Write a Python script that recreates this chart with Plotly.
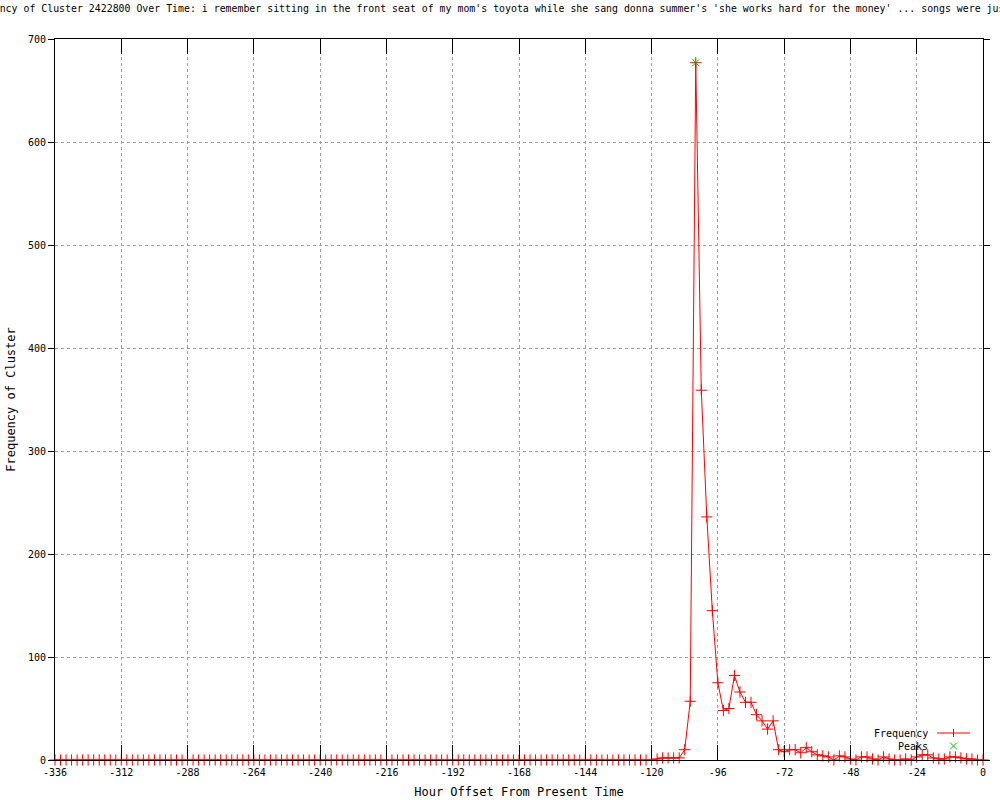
import plotly.graph_objects as go

# hour offsets, one sample every 2 hours
hours = list(range(-336, 1, 2))
freq = [
    0, 0, 0, 0, 0, 0, 0, 0, 0, 0, 0, 0, 0, 0, 0, 0, 0, 0, 0, 0,
    0, 0, 0, 0, 0, 0, 0, 0, 0, 0, 0, 0, 0, 0, 0, 0, 0, 0, 0, 0,
    0, 0, 0, 0, 0, 0, 0, 0, 0, 0, 0, 0, 0, 0, 0, 0, 0, 0, 0, 0,
    0, 0, 0, 0, 0, 0, 0, 0, 0, 0, 0, 0, 0, 0, 0, 0, 0, 0, 0, 0,
    0, 0, 0, 0, 0, 0, 0, 0, 0, 0, 0, 0, 0, 0, 0, 0, 0, 0, 0, 0,
    0, 0, 0, 0, 0, 0, 0, 0, 0,
    1, 2, 2, 2, 2,
    10, 57, 677, 359, 236, 145, 75, 48, 50, 82,
    66, 56, 56, 44, 38, 30, 38, 10, 8, 10,
    10, 7, 12, 8, 5, 4, 3, 0, 4, 3,
    1, 0, 3, 3, 1, 0, 3, 1, 0, 0,
    1, 0, 3, 5, 5, 2, 1, 1, 3, 3,
    2, 1, 1, 0, 0,
]
peak_hours = [-104]
peak_freq = [677]

x_ticks = list(range(-336, 1, 24))
x_labels = [str(v) for v in x_ticks]
y_ticks = list(range(0, 701, 100))

title = ("Frequency of Cluster 2422800 Over Time: i remember sitting in the front seat "
         "of my mom's toyota while she sang donna summer's 'she works hard for the money' "
         "... songs were just")

FONT = "DejaVu Sans Mono"
RED = "#ff0000"
GREEN = "#00c000"

fig = go.Figure()

fig.add_trace(go.Scatter(
    x=hours, y=freq, mode="lines+markers", name="Frequency",
    line=dict(color=RED, width=1),
    marker=dict(symbol="cross-thin", size=8, line=dict(color=RED, width=1)),
    cliponaxis=False, showlegend=False,
))
fig.add_trace(go.Scatter(
    x=peak_hours, y=peak_freq, mode="markers", name="Peaks",
    marker=dict(symbol="x-thin", size=7, line=dict(color=GREEN, width=1)),
    cliponaxis=False, showlegend=False,
))

fig.update_layout(
    width=1000, height=800,
    margin=dict(l=55, r=17, t=39, b=40, autoexpand=False),
    paper_bgcolor="white", plot_bgcolor="white",
    font=dict(family=FONT, size=10, color="black"),
    xaxis=dict(
        range=[-336, 0], tickvals=x_ticks, ticktext=x_labels, automargin=False,
        showgrid=True, gridcolor="#a0a0a0", griddash="3px,3px", gridwidth=1,
        zeroline=False, showline=True, linecolor="black", linewidth=1, mirror="ticks",
        ticks="inside", ticklen=15, tickcolor="black", ticklabelstandoff=3,
        title=dict(text="Hour Offset From Present Time", standoff=10),
    ),
    yaxis=dict(
        range=[0, 700], tickvals=y_ticks, automargin=False,
        showgrid=True, gridcolor="#a0a0a0", griddash="3px,3px", gridwidth=1,
        zeroline=False, showline=True, linecolor="black", linewidth=1, mirror="ticks",
        ticks="outside", ticklen=6, tickcolor="black",
        title=dict(text="Frequency of Cluster", standoff=9),
    ),
)

# title, wider than the page so it runs off both edges
fig.add_annotation(
    text=title, xref="paper", yref="paper", x=-93 / 928, y=1 + 31 / 721,
    xanchor="left", yanchor="middle", showarrow=False,
    font=dict(family=FONT, size=9.9, color="black"),
)

# gnuplot style key: text on the left, sample on the right
key_x = (930 - 55) / 928
for label, ypix in [("Frequency", 733), ("Peaks", 746)]:
    fig.add_annotation(
        text=label, xref="paper", yref="paper", x=key_x, y=(760 - ypix) / 721,
        xanchor="right", yanchor="middle", showarrow=False,
        font=dict(family=FONT, size=10, color="black"),
    )


def px(xp, yp):
    return (xp - 55) / 928, (760 - yp) / 721


x0, y0 = px(937, 733)
x1, _ = px(970, 733)
fig.add_shape(type="line", xref="paper", yref="paper", x0=x0, x1=x1, y0=y0, y1=y0,
              line=dict(color=RED, width=1))
cx, cy = px(953.5, 733)
a, b = px(949.5, 729)
c, d = px(957.5, 737)
fig.add_shape(type="line", xref="paper", yref="paper", x0=cx, x1=cx, y0=b, y1=d,
              line=dict(color=RED, width=1))
gx0, gy0 = px(950, 742.5)
gx1, gy1 = px(957, 749.5)
fig.add_shape(type="line", xref="paper", yref="paper", x0=gx0, x1=gx1, y0=gy0, y1=gy1,
              line=dict(color=GREEN, width=1))
fig.add_shape(type="line", xref="paper", yref="paper", x0=gx0, x1=gx1, y0=gy1, y1=gy0,
              line=dict(color=GREEN, width=1))

# drop the page's default body margin so the figure sits at the window corner
fig.write_html("out.html", config={"displayModeBar": False},
               post_script="document.body.style.margin='0';")
